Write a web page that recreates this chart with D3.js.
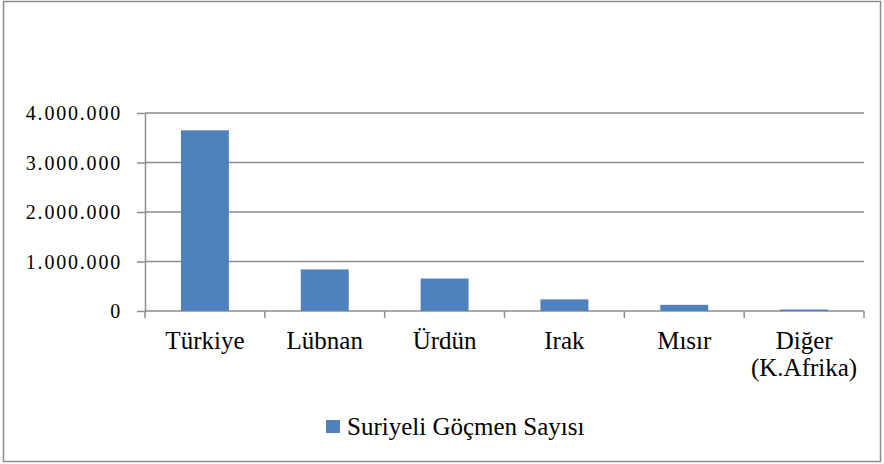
<!DOCTYPE html>
<html>
<head>
<meta charset="utf-8">
<script src="https://cdn.jsdelivr.net/npm/d3@7"></script>
<style>
  body { margin: 0; background: #fff; }
</style>
</head>
<body>
<div id="chart"></div>
<script>
const categories = ['Türkiye', 'Lübnan', 'Ürdün', 'Irak', 'Mısır', 'Diğer (K.Afrika)'];
const values = [3650000, 840000, 656000, 235000, 125000, 30000];
const yTicks = [0, 1000000, 2000000, 3000000, 4000000];
const seriesName = 'Suriyeli Göçmen Sayısı';

const FONT = 'Liberation Serif';
const GREY = '#8c8c8c';

const W = 884, H = 464;
const margin = { top: 113, right: 20, bottom: 153, left: 145 };
const width = W - margin.left - margin.right;
const height = H - margin.top - margin.bottom;

const svg = d3.select('#chart').append('svg')
  .attr('width', W)
  .attr('height', H);

// outer frame
svg.append('rect')
  .attr('x', 3.5).attr('y', 1.5)
  .attr('width', 877).attr('height', 460)
  .attr('fill', 'none')
  .attr('stroke', GREY)
  .attr('stroke-width', 1.5);

const g = svg.append('g')
  .attr('transform', `translate(${margin.left},${margin.top})`);

const x = d3.scaleBand()
  .domain(categories)
  .range([0, width])
  .paddingInner(0.6)
  .paddingOuter(0.3);

// band edges for tick marks / label centres
const xEdge = d3.scaleBand().domain(categories).range([0, width]);

const y = d3.scaleLinear()
  .domain([0, 4000000])
  .range([height, 0]);

const fmt = v => d3.format(',')(v).replace(/,/g, '.');

// gridlines
g.selectAll('.grid')
  .data(yTicks)
  .enter().append('line')
  .attr('x1', 0).attr('x2', width)
  .attr('y1', d => y(d)).attr('y2', d => y(d))
  .attr('stroke', GREY)
  .attr('stroke-width', 1.5);

// y axis
const yAxis = g.append('g')
  .call(d3.axisLeft(y).tickValues(yTicks).tickFormat(fmt).tickSize(8).tickSizeOuter(0));
yAxis.select('.domain').attr('stroke', GREY).attr('stroke-width', 1.5);
yAxis.selectAll('line').attr('stroke', GREY).attr('stroke-width', 1.5);
yAxis.selectAll('text')
  .attr('x', -23)
  .attr('dy', '0.33em')
  .attr('fill', '#000')
  .attr('font-family', FONT)
  .attr('font-size', 20)
  .attr('letter-spacing', 1.8);

// bars
g.selectAll('.bar')
  .data(categories)
  .enter().append('rect')
  .attr('x', d => x(d))
  .attr('y', (d, i) => y(values[i]))
  .attr('width', x.bandwidth())
  .attr('height', (d, i) => height - y(values[i]))
  .attr('fill', '#4f81bd');

// x ticks at category boundaries
const edges = categories.map(c => xEdge(c)).concat([width]);
g.selectAll('.xtick')
  .data(edges)
  .enter().append('line')
  .attr('x1', d => d).attr('x2', d => d)
  .attr('y1', height).attr('y2', height + 7)
  .attr('stroke', GREY)
  .attr('stroke-width', 1.5);

// x labels
const xl = g.selectAll('.xl')
  .data(categories)
  .enter().append('text')
  .attr('text-anchor', 'middle')
  .attr('transform', d => `translate(${xEdge(d) + xEdge.bandwidth() / 2},${height + 38})`)
  .attr('font-family', FONT)
  .attr('font-size', 25)
  .attr('fill', '#000');
xl.each(function (d) {
  const parts = d.split(' ');
  d3.select(this).selectAll('tspan')
    .data(parts)
    .enter().append('tspan')
    .attr('x', 0)
    .attr('dy', (p, i) => i === 0 ? 0 : 27)
    .text(p => p);
});

// legend
const leg = svg.append('g').attr('transform', 'translate(326,420)');
leg.append('rect').attr('width', 14).attr('height', 13).attr('fill', '#4f81bd');
leg.append('text').attr('x', 21).attr('y', 15)
  .attr('font-family', FONT)
  .attr('font-size', 25)
  .attr('fill', '#000')
  .text(seriesName);
</script>
</body>
</html>
